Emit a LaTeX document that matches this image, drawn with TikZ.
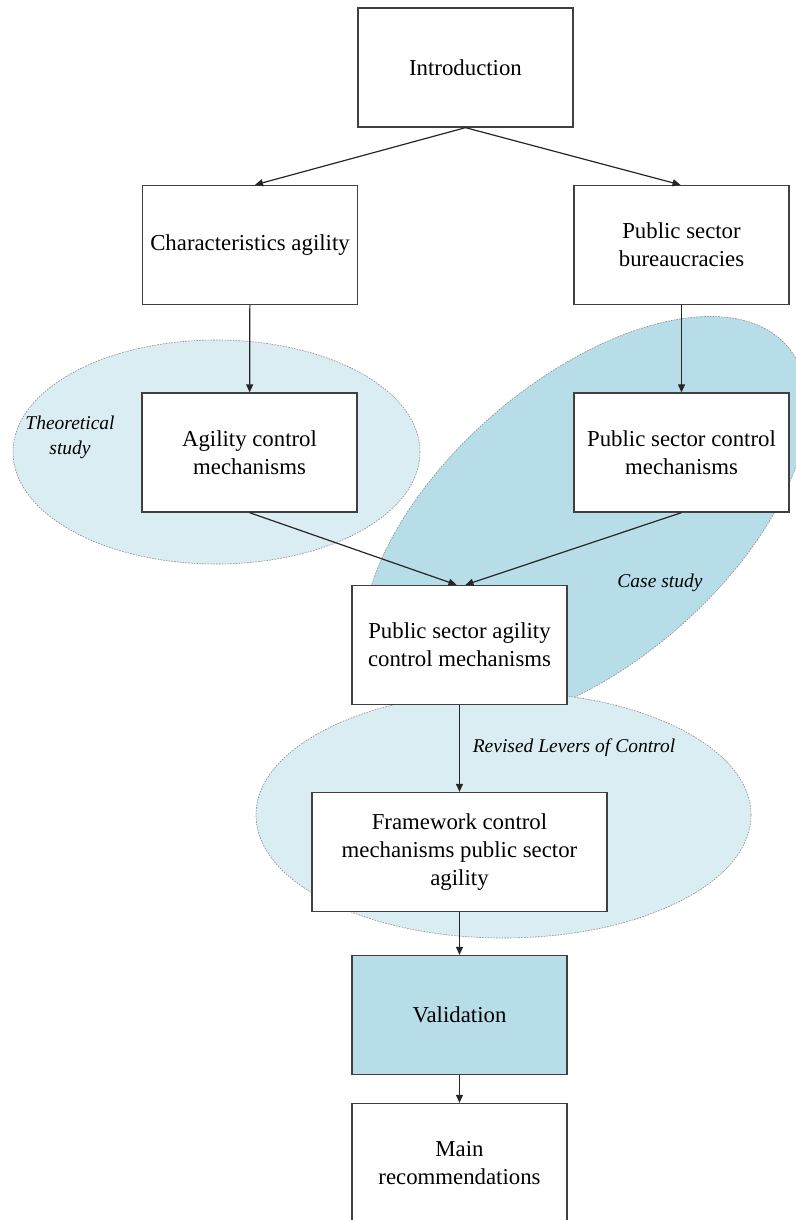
\documentclass[tikz,border=0pt]{standalone}
\usepackage{fontspec}
\setmainfont{Liberation Serif}
\usetikzlibrary{arrows.meta}
\definecolor{lightell}{HTML}{DAEDF3}
\definecolor{darkell}{HTML}{B7DDE8}
\begin{document}
\begin{tikzpicture}[x=1pt,y=-1pt,
  box/.style={draw=black!75, line width=1.3pt, fill=white, minimum width=215pt, minimum height=119pt,
    align=center, inner sep=2pt, font=\fontsize{22.8}{28}\selectfont},
  ell/.style={draw=black!45, line width=0.6pt, dash pattern=on 1.6pt off 1.2pt},
  lab/.style={font=\fontsize{19.5}{25}\selectfont\itshape, align=center, inner sep=0pt},
  arr/.style={draw=black!85, line width=1.2pt, -{Triangle[length=8pt,width=7pt]}}]
\useasboundingbox (0,0) rectangle (795,1220);
% ellipses
\draw[ell, fill=lightell] (216.5,452) ellipse [x radius=203.5pt, y radius=112pt];
\draw[ell, fill=darkell, shift={(585,522)}, rotate=41] (0,0) ellipse [x radius=268pt, y radius=141pt];
\draw[ell, fill=lightell] (503.5,815) ellipse [x radius=247.5pt, y radius=123pt];
% labels
\node[lab] (lt) at (70,437) {Theoretical\\study};
\node[lab] (lc) at (660,583) {Case study};
\node[lab] (lr) at (574,748) {Revised Levers of Control};
% boxes
\node[box] (intro) at (465.5,67.5) {Introduction};
\node[box] (char) at (250,245) {Characteristics agility};
\node[box] (bur) at (681.5,245) {Public sector\\bureaucracies};
\node[box] (agc) at (249.5,452.5) {Agility control\\mechanisms};
\node[box] (psc) at (681.5,452.5) {Public sector control\\mechanisms};
\node[box] (psa) at (459.5,645) {Public sector agility\\control mechanisms};
\node[box, minimum width=295pt] (fw) at (459.5,852) {Framework control\\mechanisms public sector\\agility};
\node[box, fill=darkell] (val) at (459.5,1015) {Validation};
\node[box] (mr) at (459.5,1163) {Main\\recommendations};
% connectors
\draw[arr] (intro.south) -- ([xshift=5pt]char.north);
\draw[arr] (intro.south) -- ([xshift=-1pt]bur.north);
\draw[arr] (char) -- (agc);
\draw[arr] (bur) -- (psc);
\draw[arr] (agc.south) -- ([xshift=-3pt]psa.north);
\draw[arr] (psc.south) -- ([xshift=6pt]psa.north);
\draw[arr] (psa) -- (fw);
\draw[arr] (fw) -- (val);
\draw[arr] (val) -- (mr);
\end{tikzpicture}
\end{document}
